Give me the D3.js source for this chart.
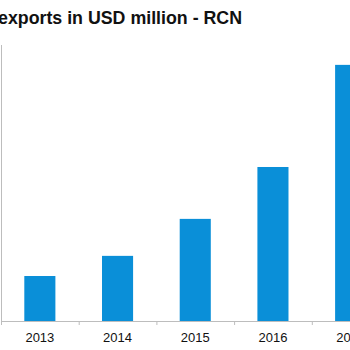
<!DOCTYPE html>
<html>
<head>
<meta charset="utf-8">
<script src="https://cdn.jsdelivr.net/npm/d3@7"></script>
<style>
  html, body { margin: 0; padding: 0; background: #fff; overflow: hidden; }
  svg { display: block; }
</style>
</head>
<body>
<script>
const categories = ["2013", "2014", "2015", "2016", "2017"];
const values = [163, 236, 370, 558, 928];
const yMax = 1000;
const title = "exports in USD million - RCN";

const W = 350, H = 350;
const svg = d3.select("body").append("svg").attr("width", W).attr("height", H);

const baseY = 321, topY = 45, left = 1;
const step = 77.7;
const x = d3.scaleBand().domain(categories)
  .range([left, left + step * categories.length])
  .paddingInner(0.6).paddingOuter(0.3);
const y = d3.scaleLinear().domain([0, yMax]).range([baseY, topY]);

svg.append("text")
  .attr("x", -2).attr("y", 24)
  .attr("font-family", "Liberation Sans, Arial, sans-serif")
  .attr("font-weight", "bold")
  .attr("font-size", 17.8)
  .attr("fill", "#111")
  .text(title);

svg.append("g").selectAll("rect").data(values).join("rect")
  .attr("x", (d, i) => x(categories[i]))
  .attr("y", d => y(d))
  .attr("width", x.bandwidth())
  .attr("height", d => y(0) - y(d))
  .attr("fill", "#0a8fd8");

// y axis line
svg.append("line")
  .attr("x1", left + 0.5).attr("x2", left + 0.5)
  .attr("y1", topY).attr("y2", baseY)
  .attr("stroke", "#bdbdbd").attr("stroke-width", 1);

// x axis
const xAxis = d3.axisBottom(x).tickSize(0).tickPadding(12);
const gx = svg.append("g").attr("transform", `translate(0,${baseY})`).call(xAxis);
gx.select(".domain").attr("stroke", "#bdbdbd");
gx.selectAll("text")
  .attr("font-family", "Liberation Sans, Arial, sans-serif")
  .attr("font-size", 13)
  .attr("fill", "#111");

// tick marks at category boundaries
const bounds = d3.range(categories.length + 1).map(i => left + i * x.step());
svg.append("g").selectAll("line").data(bounds).join("line")
  .attr("x1", d => d + 0.5).attr("x2", d => d + 0.5)
  .attr("y1", baseY).attr("y2", baseY + 4)
  .attr("stroke", "#bdbdbd");
</script>
</body>
</html>
